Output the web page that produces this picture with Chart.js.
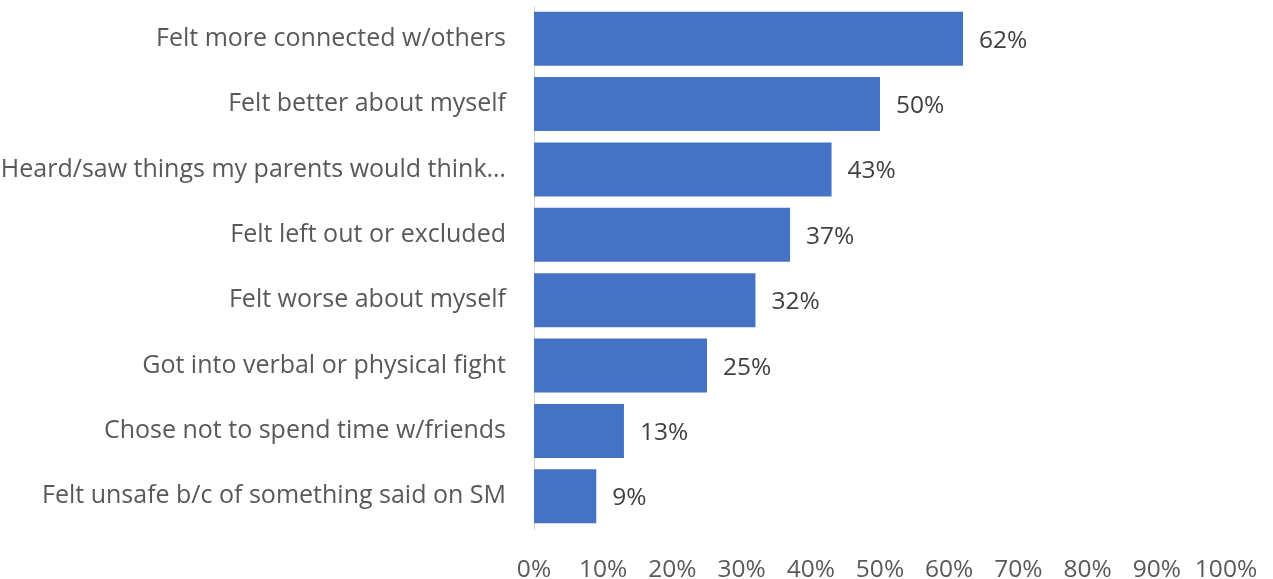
<!DOCTYPE html>
<html>
<head>
<meta charset="utf-8">
<script src="https://cdn.jsdelivr.net/npm/chart.js@4.4.1/dist/chart.umd.min.js"></script>
<style>
html,body{margin:0;padding:0;background:#fff;}
#wrap{width:1273px;height:579px;position:relative;}
</style>
</head>
<body>
<div id="wrap"><canvas id="c"></canvas></div>
<script>
const categories = [
  "Felt more connected w/others",
  "Felt better about myself",
  "Heard/saw things my parents would think…",
  "Felt left out or excluded",
  "Felt worse about myself",
  "Got into verbal or physical fight",
  "Chose not to spend time w/friends",
  "Felt unsafe b/c of something said on SM"
];
const values = [62, 50, 43, 37, 32, 25, 13, 9];
const tickValues = [0, 10, 20, 30, 40, 50, 60, 70, 80, 90, 100];

const FONT = "'Open Sans'";
const TEXT = "#595959";

const valueLabels = {
  id: 'valueLabels',
  afterDatasetsDraw(chart) {
    const ctx = chart.ctx;
    const meta = chart.getDatasetMeta(0);
    ctx.save();
    ctx.font = "24.5px " + FONT;
    ctx.fillStyle = "#404040";
    ctx.textAlign = "left";
    ctx.textBaseline = "middle";
    meta.data.forEach((bar, i) => {
      ctx.fillText(values[i] + "%", bar.x + 16, bar.y + 2);
    });
    ctx.restore();
  }
};

new Chart(document.getElementById('c'), {
  type: 'bar',
  data: {
    labels: categories,
    datasets: [{
      data: values,
      backgroundColor: '#4472C4',
      borderWidth: 0,
      categoryPercentage: 1,
      barPercentage: 0.826
    }]
  },
  options: {
    indexAxis: 'y',
    responsive: true,
    maintainAspectRatio: false,
    animation: false,
    layout: { padding: { top: 6, right: 47, bottom: 0, left: 0 } },
    plugins: { legend: { display: false }, tooltip: { enabled: false } },
    scales: {
      x: {
        min: 0, max: 100,
        afterBuildTicks(scale) { scale.ticks = tickValues.map(v => ({ value: v })); },
        afterFit(scale) { scale.height = 50; scale.paddingLeft = 0; scale.paddingRight = 0; },
        grid: { display: false, drawTicks: false },
        border: { display: false },
        ticks: {
          padding: 26,
          color: TEXT,
          font: { family: FONT, size: 24.5 },
          maxRotation: 0,
          autoSkip: false,
          callback: v => v + "%"
        }
      },
      y: {
        afterFit(scale) { scale.width = 534; scale.paddingTop = 0; scale.paddingBottom = 0; },
        grid: { display: false, drawTicks: false },
        border: { display: true, color: '#d9d9d9', width: 1 },
        ticks: {
          padding: 28,
          color: TEXT,
          font: { family: FONT, size: 25 },
          autoSkip: false
        }
      }
    }
  },
  plugins: [valueLabels]
});
</script>
</body>
</html>
